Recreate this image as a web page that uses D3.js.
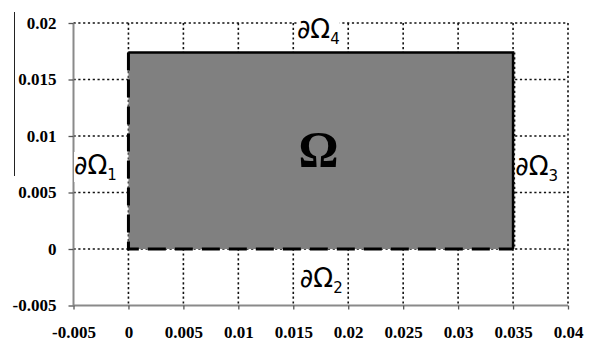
<!DOCTYPE html>
<html>
<head>
<meta charset="utf-8">
<script src="https://cdn.jsdelivr.net/npm/d3@7"></script>
<style>
  body { margin: 0; background: #fff; }
  svg { display: block; }
</style>
</head>
<body>
<div id="chart"></div>
<script>
  "use strict";

  // axis ticks
  var xTicks = [-0.005, 0, 0.005, 0.01, 0.015, 0.02, 0.025, 0.03, 0.035, 0.04];
  var yTicks = [-0.005, 0, 0.005, 0.01, 0.015, 0.02];

  // the domain Omega: [x0, x1] x [y0, y1]
  var domainX = [0, 0.035];
  var domainY = [0, 0.0174];

  // boundary labels, anchored (start, baseline) in data units
  var boundaryNames = ["1", "2", "3", "4"];
  var boundaryX = [-0.00495, 0.0156, 0.0352, 0.01533];
  var boundaryY = [0.00664, -0.00336, 0.00655, 0.01867];

  var width = 596,
      height = 342;

  var serif = "'Liberation Serif', 'Times New Roman', Times, serif";

  var x = d3.scaleLinear().domain([-0.005, 0.04]).range([73.5, 568]);
  var y = d3.scaleLinear().domain([-0.005, 0.02]).range([305.5, 23]);

  var svg = d3.select("#chart").append("svg")
      .attr("width", width)
      .attr("height", height);

  // stray vertical line at far left
  svg.append("line")
      .attr("x1", 14.5).attr("x2", 14.5)
      .attr("y1", 12).attr("y2", 176)
      .attr("stroke", "#222")
      .attr("stroke-width", 1);

  // dotted grid
  var grid = svg.append("g")
      .attr("stroke", "#111")
      .attr("stroke-width", 1.6)
      .attr("stroke-dasharray", "2.2,2.6");

  grid.selectAll("line.v")
      .data(xTicks.filter(function(d) { return d > -0.005; }))
    .enter().append("line")
      .attr("class", "v")
      .attr("x1", function(d) { return x(d); })
      .attr("x2", function(d) { return x(d); })
      .attr("y1", y(0.02))
      .attr("y2", y(-0.005));

  grid.selectAll("line.h")
      .data(yTicks.filter(function(d) { return d > -0.005; }))
    .enter().append("line")
      .attr("class", "h")
      .attr("x1", x(-0.005))
      .attr("x2", x(0.04))
      .attr("y1", function(d) { return y(d); })
      .attr("y2", function(d) { return y(d); });

  // axes
  var fmt = function(d) { return String(+d.toFixed(3)); };

  var xAxis = d3.axisBottom(x)
      .tickValues(xTicks)
      .tickSize(4)
      .tickPadding(16)
      .tickFormat(fmt);

  var yAxis = d3.axisLeft(y)
      .tickValues(yTicks)
      .tickSize(5)
      .tickPadding(12)
      .tickFormat(fmt);

  var gx = svg.append("g")
      .attr("transform", "translate(0," + y(-0.005) + ")")
      .call(xAxis);
  var gy = svg.append("g")
      .attr("transform", "translate(" + x(-0.005) + ",0)")
      .call(yAxis);

  [gx, gy].forEach(function(g) {
    g.attr("font-family", serif).attr("font-size", 17).attr("font-weight", "bold");
    g.select(".domain").attr("stroke", "#8a8a8a").attr("stroke-width", 2);
    g.selectAll(".tick line").attr("stroke", "#555").attr("stroke-width", 1.3);
    g.selectAll(".tick text").attr("fill", "#000");
  });
  gy.select(".domain").attr("d", "M0," + y(0.02) + "V" + y(-0.005));
  gx.select(".domain").attr("d", "M" + x(-0.005) + ",0H" + x(0.04));

  // filled domain
  svg.append("rect")
      .attr("x", x(domainX[0]))
      .attr("y", y(domainY[1]))
      .attr("width", x(domainX[1]) - x(domainX[0]))
      .attr("height", y(domainY[0]) - y(domainY[1]))
      .attr("fill", "#808080");

  // solid edges (top, right)
  svg.append("path")
      .attr("d", "M" + x(domainX[0]) + "," + y(domainY[1]) +
                 "H" + x(domainX[1]) + "V" + y(domainY[0]))
      .attr("fill", "none")
      .attr("stroke", "#000")
      .attr("stroke-width", 2.5);

  // dashed edges (left, bottom)
  svg.append("path")
      .attr("d", "M" + x(domainX[0]) + "," + y(domainY[1]) +
                 "V" + y(domainY[0]) + "H" + x(domainX[1]))
      .attr("fill", "none")
      .attr("stroke", "#000")
      .attr("stroke-width", 3)
      .attr("stroke-dasharray", "18,9");

  // dotted overlay on right edge
  svg.append("line")
      .attr("x1", x(domainX[1]) + 1.5).attr("x2", x(domainX[1]) + 1.5)
      .attr("y1", y(domainY[1])).attr("y2", y(domainY[0]))
      .attr("stroke", "#111")
      .attr("stroke-width", 1.6)
      .attr("stroke-dasharray", "2.2,2.6");

  // Omega
  svg.append("text")
      .attr("x", x(0.01729))
      .attr("y", y(0.00735))
      .attr("text-anchor", "middle")
      .attr("font-family", serif)
      .attr("font-weight", "bold")
      .attr("font-size", 50)
      .text("\u03A9");

  // boundary labels with white backing
  var labels = svg.selectAll("g.bl")
      .data(boundaryNames)
    .enter().append("g")
      .attr("class", "bl");

  var texts = labels.append("text")
      .attr("x", function(d, i) { return x(boundaryX[i]); })
      .attr("y", function(d, i) { return y(boundaryY[i]); })
      .attr("font-family", "'DejaVu Sans', sans-serif")
      .attr("font-size", 26)
      .attr("fill", "#000");
  texts.append("tspan").text("\u2202\u03A9");
  texts.append("tspan")
      .attr("dy", 6)
      .attr("font-size", 15)
      .text(function(d) { return d; });

  labels.each(function() {
    var g = d3.select(this);
    var b = g.select("text").node().getBBox();
    g.insert("rect", "text")
        .attr("x", b.x)
        .attr("y", b.y + 2)
        .attr("width", b.width)
        .attr("height", b.height - 4)
        .attr("fill", "#fff");
  });
</script>
</body>
</html>
